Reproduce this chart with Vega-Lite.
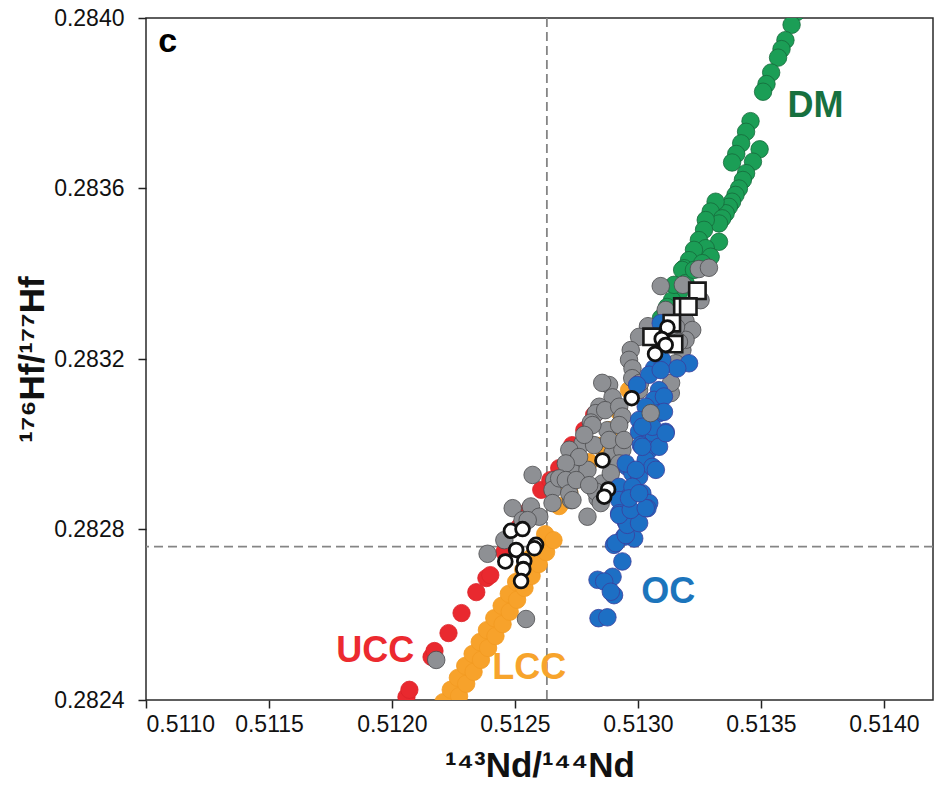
{
  "$schema": "https://vega.github.io/schema/vega-lite/v6.json",
  "width": 787,
  "height": 682,
  "autosize": {"type": "none"},
  "padding": {"left": 146, "top": 18, "right": 2, "bottom": 88},
  "background": "white",
  "config": {
    "view": {"stroke": "#2a2a2a", "strokeWidth": 1.5},
    "axis": {
      "grid": false,
      "domain": false,
      "tickColor": "#222222",
      "tickWidth": 1.5,
      "tickSize": 8,
      "labelFont": "Liberation Sans, Arial, sans-serif",
      "labelFontSize": 23,
      "labelColor": "#111111",
      "titleFont": "Liberation Sans Narrow, Liberation Sans, Arial, sans-serif",
      "titleFontSize": 35,
      "titleFontWeight": "bold",
      "titleColor": "#111111"
    }
  },
  "datasets": {
    "pts": [
      {"g":"UCC","x":0.512059,"y":0.282407},{"g":"UCC","x":0.512071,"y":0.282424},{"g":"UCC","x":0.512161,"y":0.282501},{"g":"UCC","x":0.512173,"y":0.282515},{"g":"UCC","x":0.512230,"y":0.282557},{"g":"UCC","x":0.512283,"y":0.282604},{"g":"UCC","x":0.512343,"y":0.282653},{"g":"UCC","x":0.512384,"y":0.282686},{"g":"UCC","x":0.512400,"y":0.282693},{"g":"UCC","x":0.512457,"y":0.282747},{"g":"UCC","x":0.512518,"y":0.282806},{"g":"UCC","x":0.512558,"y":0.282846},{"g":"UCC","x":0.512607,"y":0.282893},{"g":"UCC","x":0.512644,"y":0.282916},{"g":"UCC","x":0.512680,"y":0.282944},{"g":"UCC","x":0.512733,"y":0.282998},{"g":"UCC","x":0.512782,"y":0.283033},{"g":"UCC","x":0.512822,"y":0.283069},
      {"g":"LCC","x":0.512185,"y":0.282372},
      {"g":"LCC","x":0.512209,"y":0.282395},{"g":"LCC","x":0.512239,"y":0.282424},{"g":"LCC","x":0.512268,"y":0.282452},{"g":"LCC","x":0.512298,"y":0.282480},{"g":"LCC","x":0.512328,"y":0.282508},{"g":"LCC","x":0.512357,"y":0.282536},{"g":"LCC","x":0.512386,"y":0.282564},{"g":"LCC","x":0.512416,"y":0.282592},{"g":"LCC","x":0.512446,"y":0.282621},{"g":"LCC","x":0.512475,"y":0.282649},{"g":"LCC","x":0.512505,"y":0.282677},{"g":"LCC","x":0.512534,"y":0.282705},{"g":"LCC","x":0.512564,"y":0.282733},{"g":"LCC","x":0.512593,"y":0.282761},{"g":"LCC","x":0.512623,"y":0.282789},
      {"g":"LCC","x":0.512273,"y":0.282409},{"g":"LCC","x":0.512302,"y":0.282438},{"g":"LCC","x":0.512332,"y":0.282466},{"g":"LCC","x":0.512362,"y":0.282494},{"g":"LCC","x":0.512391,"y":0.282522},{"g":"LCC","x":0.512421,"y":0.282550},{"g":"LCC","x":0.512450,"y":0.282578},{"g":"LCC","x":0.512479,"y":0.282607},{"g":"LCC","x":0.512509,"y":0.282635},{"g":"LCC","x":0.512539,"y":0.282663},{"g":"LCC","x":0.512568,"y":0.282691},{"g":"LCC","x":0.512597,"y":0.282719},{"g":"LCC","x":0.512627,"y":0.282747},{"g":"LCC","x":0.512657,"y":0.282775},
      {"g":"LCC","x":0.512680,"y":0.282855},{"g":"LCC","x":0.512721,"y":0.282888},{"g":"LCC","x":0.512761,"y":0.282921},{"g":"LCC","x":0.512802,"y":0.282958},{"g":"LCC","x":0.512843,"y":0.282996},{"g":"LCC","x":0.512883,"y":0.283033},{"g":"LCC","x":0.512924,"y":0.283076},{"g":"LCC","x":0.512964,"y":0.283127},
      {"g":"DM","x":0.513646,"y":0.284014},{"g":"DM","x":0.513625,"y":0.283984},{"g":"DM","x":0.513600,"y":0.283948},{"g":"DM","x":0.513584,"y":0.283927},{"g":"DM","x":0.513570,"y":0.283907},{"g":"DM","x":0.513542,"y":0.283872},{"g":"DM","x":0.513523,"y":0.283845},{"g":"DM","x":0.513509,"y":0.283827},{"g":"DM","x":0.513458,"y":0.283758},{"g":"DM","x":0.513440,"y":0.283733},{"g":"DM","x":0.513420,"y":0.283706},{"g":"DM","x":0.513400,"y":0.283681},{"g":"DM","x":0.513383,"y":0.283661},{"g":"DM","x":0.513495,"y":0.283692},{"g":"DM","x":0.513468,"y":0.283663},{"g":"DM","x":0.513440,"y":0.283636},{"g":"DM","x":0.513427,"y":0.283620},{"g":"DM","x":0.513411,"y":0.283600},{"g":"DM","x":0.513397,"y":0.283585},{"g":"DM","x":0.513383,"y":0.283569},{"g":"DM","x":0.513370,"y":0.283557},{"g":"DM","x":0.513357,"y":0.283542},{"g":"DM","x":0.513316,"y":0.283569},{"g":"DM","x":0.513296,"y":0.283546},{"g":"DM","x":0.513343,"y":0.283530},{"g":"DM","x":0.513330,"y":0.283518},{"g":"DM","x":0.513276,"y":0.283526},{"g":"DM","x":0.513269,"y":0.283503},{"g":"DM","x":0.513248,"y":0.283479},{"g":"DM","x":0.513330,"y":0.283475},{"g":"DM","x":0.513276,"y":0.283460},{"g":"DM","x":0.513228,"y":0.283456},{"g":"DM","x":0.513208,"y":0.283432},{"g":"DM","x":0.513296,"y":0.283440},{"g":"DM","x":0.513188,"y":0.283413},{"g":"DM","x":0.513262,"y":0.283425},{"g":"DM","x":0.513180,"y":0.283409},{"g":"DM","x":0.513194,"y":0.283378},{"g":"DM","x":0.513167,"y":0.283355},{"g":"DM","x":0.513139,"y":0.283338},{"g":"DM","x":0.513119,"y":0.283322},{"g":"DM","x":0.513094,"y":0.283296},{"g":"DM","x":0.513147,"y":0.283374},{"g":"DM","x":0.513228,"y":0.283409},
      {"g":"Sample","x":0.513248,"y":0.283411},{"g":"Sample","x":0.513289,"y":0.283414},{"g":"Sample","x":0.513093,"y":0.283371},{"g":"Sample","x":0.513183,"y":0.283374},{"g":"Sample","x":0.513255,"y":0.283338},{"g":"Sample","x":0.513113,"y":0.283315},{"g":"Sample","x":0.513194,"y":0.283288},{"g":"Sample","x":0.513221,"y":0.283268},{"g":"Sample","x":0.513041,"y":0.283277},{"g":"Sample","x":0.513005,"y":0.283252},{"g":"Sample","x":0.512971,"y":0.283221},{"g":"Sample","x":0.512964,"y":0.283198},{"g":"Sample","x":0.512978,"y":0.283178},{"g":"Sample","x":0.512977,"y":0.283155},{"g":"Sample","x":0.512883,"y":0.283139},{"g":"Sample","x":0.512897,"y":0.283110},{"g":"Sample","x":0.512843,"y":0.283088},{"g":"Sample","x":0.512829,"y":0.283073},{"g":"Sample","x":0.512867,"y":0.283080},{"g":"Sample","x":0.512809,"y":0.283051},{"g":"Sample","x":0.512876,"y":0.283033},{"g":"Sample","x":0.512924,"y":0.283088},{"g":"Sample","x":0.512937,"y":0.283065},{"g":"Sample","x":0.513181,"y":0.283221},{"g":"Sample","x":0.513154,"y":0.283190},{"g":"Sample","x":0.513134,"y":0.283120},{"g":"Sample","x":0.513005,"y":0.283127},{"g":"Sample","x":0.513194,"y":0.283245},{"g":"Sample","x":0.512775,"y":0.283002},{"g":"Sample","x":0.512721,"y":0.282987},{"g":"Sample","x":0.512755,"y":0.282963},{"g":"Sample","x":0.512728,"y":0.282940},{"g":"Sample","x":0.512795,"y":0.282940},{"g":"Sample","x":0.512660,"y":0.282916},{"g":"Sample","x":0.512653,"y":0.282893},{"g":"Sample","x":0.512728,"y":0.282869},{"g":"Sample","x":0.512924,"y":0.283045},{"g":"Sample","x":0.512897,"y":0.282979},{"g":"Sample","x":0.512937,"y":0.282987},{"g":"Sample","x":0.512856,"y":0.282908},{"g":"Sample","x":0.512836,"y":0.282873},{"g":"Sample","x":0.512815,"y":0.283045},{"g":"Sample","x":0.512822,"y":0.282998},{"g":"Sample","x":0.512761,"y":0.282970},{"g":"Sample","x":0.512707,"y":0.282955},{"g":"Sample","x":0.512680,"y":0.282920},{"g":"Sample","x":0.512707,"y":0.282916},{"g":"Sample","x":0.512721,"y":0.282885},{"g":"Sample","x":0.512734,"y":0.282869},{"g":"Sample","x":0.512653,"y":0.282862},{"g":"Sample","x":0.512572,"y":0.282928},{"g":"Sample","x":0.512565,"y":0.282854},{"g":"Sample","x":0.512491,"y":0.282850},{"g":"Sample","x":0.512599,"y":0.282830},{"g":"Sample","x":0.512531,"y":0.282822},{"g":"Sample","x":0.512457,"y":0.282775},{"g":"Sample","x":0.512389,"y":0.282743},{"g":"Sample","x":0.512924,"y":0.282955},{"g":"Sample","x":0.512890,"y":0.282932},{"g":"Sample","x":0.512829,"y":0.282889},{"g":"Sample","x":0.512849,"y":0.282862},{"g":"Sample","x":0.512795,"y":0.282830},{"g":"Sample","x":0.512545,"y":0.282590},{"g":"Sample","x":0.512552,"y":0.282822},{"g":"Sample","x":0.512180,"y":0.282494},{"g":"Sample","x":0.512782,"y":0.283022},{"g":"Sample","x":0.512749,"y":0.282916},{"g":"Sample","x":0.512802,"y":0.282904},{"g":"Sample","x":0.513086,"y":0.283216},{"g":"Sample","x":0.513155,"y":0.283275},{"g":"Sample","x":0.513167,"y":0.283240},{"g":"Sample","x":0.513135,"y":0.283144},{"g":"Sample","x":0.513009,"y":0.283144},{"g":"Sample","x":0.512883,"y":0.283010},{"g":"Sample","x":0.512944,"y":0.283010},{"g":"Sample","x":0.512855,"y":0.283144},
      {"g":"OC","x":0.513093,"y":0.283284},{"g":"OC","x":0.513208,"y":0.283190},{"g":"OC","x":0.513160,"y":0.283178},{"g":"OC","x":0.513066,"y":0.283178},{"g":"OC","x":0.513099,"y":0.283198},{"g":"OC","x":0.513046,"y":0.283163},{"g":"OC","x":0.513086,"y":0.283127},{"g":"OC","x":0.513066,"y":0.283104},{"g":"OC","x":0.513106,"y":0.283112},{"g":"OC","x":0.513032,"y":0.283088},{"g":"OC","x":0.513086,"y":0.283073},{"g":"OC","x":0.513005,"y":0.283057},{"g":"OC","x":0.513052,"y":0.283045},{"g":"OC","x":0.513113,"y":0.283029},{"g":"OC","x":0.513005,"y":0.283029},{"g":"OC","x":0.513066,"y":0.283018},{"g":"OC","x":0.513012,"y":0.282998},{"g":"OC","x":0.513046,"y":0.282987},{"g":"OC","x":0.513086,"y":0.282994},{"g":"OC","x":0.513032,"y":0.282963},{"g":"OC","x":0.512957,"y":0.282947},{"g":"OC","x":0.512978,"y":0.282932},{"g":"OC","x":0.513005,"y":0.282924},{"g":"OC","x":0.513059,"y":0.282947},{"g":"OC","x":0.512924,"y":0.282900},{"g":"OC","x":0.512964,"y":0.282877},{"g":"OC","x":0.513018,"y":0.282885},{"g":"OC","x":0.513046,"y":0.282862},{"g":"OC","x":0.513059,"y":0.283041},{"g":"OC","x":0.513018,"y":0.282994},{"g":"OC","x":0.512951,"y":0.282955},{"g":"OC","x":0.512992,"y":0.282940},{"g":"OC","x":0.513073,"y":0.282940},{"g":"OC","x":0.512978,"y":0.282900},{"g":"OC","x":0.513039,"y":0.282850},{"g":"OC","x":0.512924,"y":0.282869},{"g":"OC","x":0.512924,"y":0.282838},{"g":"OC","x":0.512951,"y":0.282818},{"g":"OC","x":0.512992,"y":0.282822},{"g":"OC","x":0.512964,"y":0.282795},{"g":"OC","x":0.512985,"y":0.282779},{"g":"OC","x":0.512944,"y":0.282783},{"g":"OC","x":0.512903,"y":0.282764},{"g":"OC","x":0.512937,"y":0.282725},{"g":"OC","x":0.512836,"y":0.282682},{"g":"OC","x":0.512897,"y":0.282689},{"g":"OC","x":0.512863,"y":0.282678},{"g":"OC","x":0.512903,"y":0.282646},{"g":"OC","x":0.512890,"y":0.282654},{"g":"OC","x":0.512840,"y":0.282592},{"g":"OC","x":0.512876,"y":0.282594},{"g":"OC","x":0.512910,"y":0.282768},{"g":"OC","x":0.512951,"y":0.282787},{"g":"OC","x":0.512957,"y":0.282811},{"g":"OC","x":0.513005,"y":0.282815},{"g":"OC","x":0.512924,"y":0.282834},{"g":"OC","x":0.512971,"y":0.282846},{"g":"OC","x":0.513032,"y":0.282850},{"g":"OC","x":0.512964,"y":0.282873},{"g":"OC","x":0.513005,"y":0.282885},{"g":"OC","x":0.513113,"y":0.283026},{"g":"OC","x":0.513018,"y":0.283041},{"g":"OC","x":0.512997,"y":0.283139},{"g":"OC","x":0.513093,"y":0.283174},{"g":"OC","x":0.513106,"y":0.283076},
      {"g":"Sample","x":0.513052,"y":0.283073}
    ],
    "squares": [
      {"x":0.513242,"y":0.283360},{"x":0.513181,"y":0.283323},{"x":0.513205,"y":0.283323},{"x":0.513138,"y":0.283284},{"x":0.513056,"y":0.283252},{"x":0.513147,"y":0.283235}
    ],
    "whites": [
      {"x":0.513120,"y":0.283274},{"x":0.513097,"y":0.283247},{"x":0.513113,"y":0.283233},{"x":0.513070,"y":0.283212},{"x":0.512975,"y":0.283108},{"x":0.512856,"y":0.282962},{"x":0.512879,"y":0.282894},{"x":0.512863,"y":0.282877},{"x":0.512484,"y":0.282797},{"x":0.512531,"y":0.282801},{"x":0.512586,"y":0.282764},{"x":0.512579,"y":0.282756},{"x":0.512505,"y":0.282752},{"x":0.512461,"y":0.282725},{"x":0.512538,"y":0.282726},{"x":0.512534,"y":0.282707},{"x":0.512525,"y":0.282679}
    ],
    "labels": [
      {"t":"DM","x":0.513722,"y":0.283768},
      {"t":"OC","x":0.513124,"y":0.282627},
      {"t":"UCC","x":0.511932,"y":0.282488},
      {"t":"LCC","x":0.512558,"y":0.282449}
    ]
  },
  "layer": [
    {
      "data": {"values": [{"v": 0.51263}]},
      "mark": {"type": "rule", "color": "#858585", "strokeWidth": 1.8, "strokeDash": [9, 5]},
      "encoding": {
        "x": {"field": "v", "type": "quantitative", "scale": {"domain": [0.511, 0.5142], "nice": false, "zero": false},
              "axis": {"values": [0.511, 0.5115, 0.512, 0.5125, 0.513, 0.5135, 0.514], "format": ".4f", "labelPadding": 5, "title": "¹⁴³Nd/¹⁴⁴Nd", "titlePadding": 12}}
      }
    },
    {
      "data": {"values": [{"h": 0.28276}]},
      "mark": {"type": "rule", "color": "#858585", "strokeWidth": 1.8, "strokeDash": [9, 5]},
      "encoding": {
        "y": {"field": "h", "type": "quantitative", "scale": {"domain": [0.2824, 0.284], "nice": false, "zero": false},
              "axis": {"values": [0.2824, 0.2828, 0.2832, 0.2836, 0.284], "format": ".4f", "labelPadding": 14, "title": "¹⁷⁶Hf/¹⁷⁷Hf", "titlePadding": 3}}
      }
    },
    {
      "data": {"name": "pts"},
      "mark": {"type": "circle", "clip": true, "opacity": 1},
      "encoding": {
        "x": {"field": "x", "type": "quantitative"},
        "y": {"field": "y", "type": "quantitative"},
        "fill": {"field": "g", "type": "nominal", "legend": null,
                 "scale": {"domain": ["UCC", "LCC", "DM", "Sample", "OC"], "range": ["#e9292f", "#f7a22b", "#1b9e56", "#8e9094", "#1d6fc4"]}},
        "stroke": {"field": "g", "type": "nominal", "legend": null,
                   "scale": {"domain": ["UCC", "LCC", "DM", "Sample", "OC"], "range": ["#dc2329", "#f29a22", "#176a3b", "#4b4b4e", "#3b3f9c"]}},
        "strokeWidth": {"field": "g", "type": "ordinal", "legend": null,
                   "scale": {"domain": ["UCC", "LCC", "DM", "Sample", "OC"], "range": [0.8, 0.8, 1.2, 2, 1.2]}},
        "size": {"field": "g", "type": "ordinal", "legend": null,
                 "scale": {"domain": ["UCC", "LCC", "DM", "Sample", "OC"], "range": [300, 310, 300, 320, 320]}}
      }
    },
    {
      "data": {"name": "squares"},
      "mark": {"type": "square", "clip": true, "opacity": 1, "fill": "white", "stroke": "#1a1a1a", "strokeWidth": 2.6, "size": 270},
      "encoding": {
        "x": {"field": "x", "type": "quantitative"},
        "y": {"field": "y", "type": "quantitative"}
      }
    },
    {
      "data": {"name": "whites"},
      "mark": {"type": "circle", "clip": true, "opacity": 1, "fill": "white", "stroke": "#111111", "strokeWidth": 2.8, "size": 190},
      "encoding": {
        "x": {"field": "x", "type": "quantitative"},
        "y": {"field": "y", "type": "quantitative"}
      }
    },
    {
      "data": {"name": "labels"},
      "mark": {"type": "text", "font": "Liberation Sans, Arial, sans-serif", "fontWeight": "bold", "fontSize": 36, "align": "center", "baseline": "alphabetic"},
      "encoding": {
        "x": {"field": "x", "type": "quantitative"},
        "y": {"field": "y", "type": "quantitative"},
        "text": {"field": "t"},
        "color": {"field": "t", "type": "nominal", "legend": null,
                  "scale": {"domain": ["DM", "OC", "UCC", "LCC"], "range": ["#17703f", "#1c75bc", "#ec2a2f", "#f7a42c"]}}
      }
    },
    {
      "data": {"values": [{"t": "c", "x": 0.51105, "y": 0.283921}]},
      "mark": {"type": "text", "font": "Liberation Sans, Arial, sans-serif", "fontWeight": "bold", "fontSize": 34, "align": "left", "baseline": "alphabetic", "color": "#000000"},
      "encoding": {
        "x": {"field": "x", "type": "quantitative"},
        "y": {"field": "y", "type": "quantitative"},
        "text": {"field": "t"}
      }
    }
  ]
}
